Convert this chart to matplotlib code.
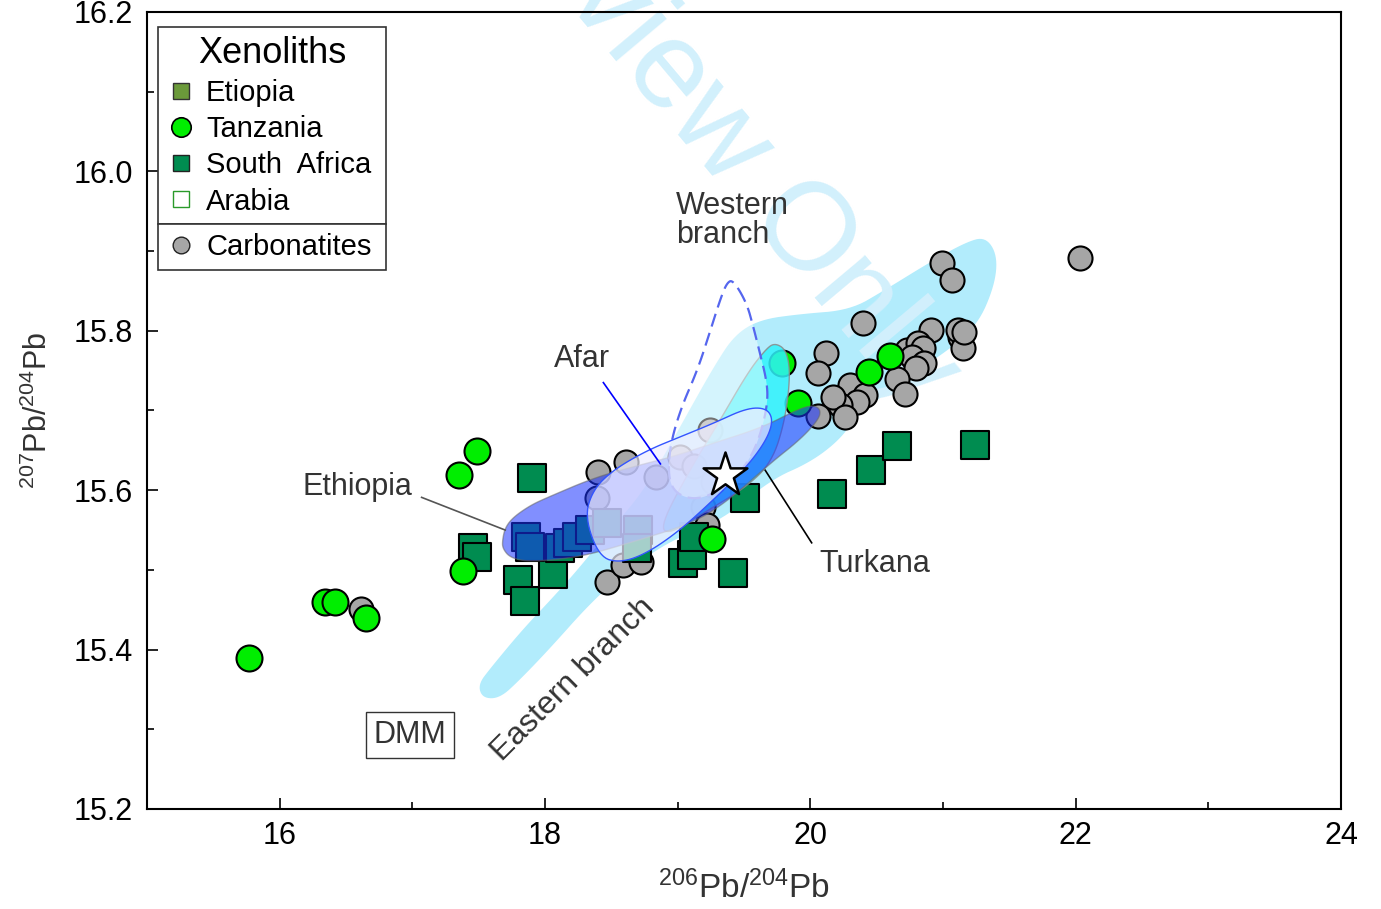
import numpy as np
import matplotlib.pyplot as plt
from matplotlib.lines import Line2D
from matplotlib.patches import Polygon
from matplotlib.ticker import MultipleLocator, FormatStrFormatter

plt.rcParams['font.family'] = ['Liberation Sans', 'DejaVu Sans']
plt.rcParams['mathtext.fontset'] = 'custom'
plt.rcParams['mathtext.rm'] = 'Liberation Sans'
plt.rcParams['mathtext.it'] = 'Liberation Sans:italic'

# ---- point data (206Pb/204Pb, 207Pb/204Pb) ----
tanz_x = [15.77, 16.34, 16.42, 16.65, 17.35, 17.49, 17.38, 19.26, 19.91, 19.79, 20.44, 20.60]
tanz_y = [15.389, 15.460, 15.460, 15.440, 15.619, 15.649, 15.499, 15.539, 15.709, 15.760, 15.748, 15.768]

safr_x = [17.90, 17.46, 17.49, 17.80, 17.85, 18.06, 19.51, 19.04, 19.11, 19.12, 19.42, 20.16, 20.46,
          20.65, 21.24, 17.86, 17.89, 18.11, 18.17, 18.24, 18.34, 18.47, 18.70, 18.69]
safr_y = [15.615, 15.527, 15.516, 15.487, 15.461, 15.495, 15.590, 15.509, 15.519, 15.541, 15.496, 15.595,
          15.625, 15.655, 15.657, 15.541, 15.529, 15.527, 15.534, 15.541, 15.550, 15.559, 15.550, 15.527]

carb_x = [22.03, 20.99, 21.07, 20.40, 20.12, 20.06, 20.91, 21.13, 21.11, 21.15, 21.16, 20.73, 20.81,
          20.85, 20.77, 20.86, 20.80, 20.65, 20.71, 20.30, 20.41, 20.35, 20.22, 20.17, 20.26, 20.06,
          18.40, 18.61, 18.39, 18.84, 19.02, 19.24, 19.27, 18.47, 18.59, 18.72, 19.19, 19.22, 16.61,
          18.15, 19.12]
carb_y = [15.891, 15.885, 15.864, 15.810, 15.772, 15.747, 15.801, 15.792, 15.801, 15.778, 15.798, 15.776,
          15.785, 15.778, 15.767, 15.760, 15.753, 15.740, 15.721, 15.732, 15.719, 15.711, 15.707, 15.717,
          15.692, 15.693, 15.623, 15.635, 15.590, 15.617, 15.642, 15.676, 15.610, 15.485, 15.506, 15.510,
          15.579, 15.556, 15.451, 15.534, 15.630]

star_x = [19.36]
star_y = [15.619]

# ---- field outlines ----
eastern = [(17.53, 15.339), (17.495, 15.356), (17.59, 15.377), (17.83, 15.425), (18.04, 15.462),
           (18.23, 15.497), (18.49, 15.550), (18.72, 15.594), (18.90, 15.644), (19.09, 15.701),
           (19.28, 15.757), (19.43, 15.795), (19.62, 15.814), (19.92, 15.821), (20.30, 15.826),
           (20.56, 15.851), (20.90, 15.886), (21.17, 15.911), (21.32, 15.918), (21.41, 15.895),
           (21.39, 15.857), (21.26, 15.807), (21.02, 15.773), (20.75, 15.745), (20.47, 15.709),
           (20.34, 15.691), (20.22, 15.663), (20.00, 15.635), (19.70, 15.613), (19.34, 15.563),
           (18.96, 15.538), (18.62, 15.500), (18.34, 15.458), (18.04, 15.402), (17.81, 15.362),
           (17.66, 15.339)]
western = [(19.417, 15.864), (19.52, 15.835), (19.57, 15.805), (19.62, 15.772), (19.67, 15.738),
           (19.68, 15.713), (19.64, 15.679), (19.57, 15.647), (19.47, 15.622), (19.32, 15.600),
           (19.15, 15.588), (19.00, 15.594), (18.93, 15.613), (18.94, 15.654), (19.02, 15.701),
           (19.15, 15.751), (19.24, 15.797), (19.32, 15.839), (19.37, 15.860)]
turkana = [(19.73, 15.785), (19.82, 15.776), (19.85, 15.745), (19.81, 15.688), (19.71, 15.635),
           (19.51, 15.603), (19.21, 15.573), (18.93, 15.544), (18.87, 15.556), (19.09, 15.625),
           (19.32, 15.688), (19.53, 15.748), (19.66, 15.776)]
ethiopia = [(17.68, 15.538), (17.70, 15.553), (17.76, 15.566), (17.89, 15.581), (18.02, 15.591),
            (18.39, 15.617), (18.77, 15.634), (18.96, 15.642), (19.27, 15.659), (19.64, 15.679),
            (19.90, 15.701), (20.02, 15.707), (20.08, 15.701), (20.06, 15.688), (19.92, 15.663),
            (19.70, 15.634), (19.39, 15.588), (19.12, 15.559), (18.64, 15.534), (18.26, 15.516),
            (17.89, 15.510), (17.74, 15.515), (17.68, 15.527)]
afar = [(18.30, 15.566), (18.41, 15.516), (18.57, 15.509), (18.77, 15.521), (19.02, 15.550),
        (19.27, 15.588), (19.52, 15.629), (19.67, 15.663), (19.72, 15.688), (19.67, 15.703),
        (19.52, 15.703), (19.27, 15.684), (19.02, 15.667), (18.77, 15.650), (18.51, 15.625),
        (18.36, 15.600)]


def smooth(pts, n=3):
    # Chaikin corner cutting for a closed outline
    p = np.asarray(pts, float)
    for _ in range(n):
        q = np.roll(p, -1, axis=0)
        new = np.empty((2 * len(p), 2))
        new[0::2] = 0.75 * p + 0.25 * q
        new[1::2] = 0.25 * p + 0.75 * q
        p = new
    return p


fig = plt.figure(figsize=(13.81, 9.09), dpi=100)
ax = fig.add_axes([147 / 1381, 1 - 809 / 909, 1194 / 1381, 797 / 909])

# watermark, kept behind the symbols and labels
ax.text(0.506, 0.878, 'Preview Only', transform=fig.transFigure, rotation=-50, fontsize=90,
        color='#d2f0fc', ha='center', va='center', rotation_mode='anchor', zorder=2, clip_on=False)

ax.add_patch(Polygon(smooth(eastern), closed=True, fc='#b2ecfc', ec='none', zorder=1))

ax.scatter(carb_x, carb_y, s=300, marker='o', c='#a6a6a6', edgecolors='black', linewidths=1.5, zorder=3)
ax.scatter(safr_x, safr_y, s=378, marker='s', c='#008c50', edgecolors='black', linewidths=1.5, zorder=3.1)
ax.scatter(tanz_x, tanz_y, s=350, marker='o', c='#00ee00', edgecolors='black', linewidths=1.5, zorder=3.2)

ax.add_patch(Polygon(smooth(turkana), closed=True, fc='#30f2fb', ec='#8a8a8a', lw=1, alpha=0.85, zorder=4))
ax.add_patch(Polygon(smooth(ethiopia), closed=True, fc='#1a33ff', ec='#666666', lw=1, alpha=0.55, zorder=4.1))
ax.add_patch(Polygon(smooth(western), closed=True, fc=(1, 1, 1, 0.45), ec='#5566ee', lw=1.6,
                     ls=(0, (6, 3)), zorder=4.2))
ax.add_patch(Polygon(smooth(afar), closed=True, fc=(0.93, 0.93, 1.0, 0.7), ec='#3355ff', lw=1,
                     zorder=4.3))

ax.scatter(star_x, star_y, s=1100, marker='*', c='white', edgecolors='black', linewidths=1.8, zorder=6)

# labels and leader lines
txt = '#333333'
ax.text(17.00, 15.604, 'Ethiopia', fontsize=22, color=txt, ha='right', va='center', zorder=7)
ax.plot([17.07, 17.70], [15.591, 15.550], color='#555555', lw=1.2, zorder=5)
ax.text(18.07, 15.765, 'Afar', fontsize=22, color=txt, ha='left', va='center', zorder=7)
ax.plot([18.44, 18.87], [15.735, 15.633], color='#0000ff', lw=1.2, zorder=5)
ax.text(20.07, 15.507, 'Turkana', fontsize=22, color=txt, ha='left', va='center', zorder=7)
ax.plot([20.01, 19.66], [15.534, 15.625], color='black', lw=1.2, zorder=5)
ax.text(18.99, 15.938, 'Western\nbranch', fontsize=22, color=txt, ha='left', va='center',
        linespacing=0.95, zorder=7)
ax.text(18.21, 15.362, 'Eastern branch', fontsize=23, color=txt, rotation=45, ha='center',
        va='center', rotation_mode='anchor', zorder=7)
ax.text(16.98, 15.293, 'DMM', fontsize=22, color=txt, ha='center', va='center', zorder=7,
        bbox=dict(boxstyle='square,pad=0.25', fc='white', ec='#333333', lw=1))

ax.set_xlim(15, 24)
ax.set_ylim(15.2, 16.2)
ax.xaxis.set_major_locator(MultipleLocator(2))
ax.xaxis.set_minor_locator(MultipleLocator(1))
ax.yaxis.set_major_locator(MultipleLocator(0.2))
ax.yaxis.set_minor_locator(MultipleLocator(0.1))
ax.xaxis.set_major_formatter(FormatStrFormatter('%d'))
ax.yaxis.set_major_formatter(FormatStrFormatter('%.1f'))
ax.tick_params(which='both', direction='in', top=False, right=False, width=1.2)
ax.tick_params(which='major', length=8, labelsize=22)
ax.tick_params(which='minor', length=5)
ax.tick_params(axis='y', pad=10)
ax.tick_params(axis='x', pad=9)
for sp in ax.spines.values():
    sp.set_linewidth(1.5)

ax.set_xlabel(r'$^{206}$Pb/$^{204}$Pb', fontsize=24, color=txt, labelpad=14)
ax.set_ylabel(r'$^{207}$Pb/$^{204}$Pb', fontsize=22, color=txt, labelpad=14)

# legends
h1 = [Line2D([], [], ls='none', marker='s', ms=12, mfc='#6b9a3a', mec='#333333', mew=1),
      Line2D([], [], ls='none', marker='o', ms=14, mfc='#00ee00', mec='black', mew=1.2),
      Line2D([], [], ls='none', marker='s', ms=12, mfc='#008c50', mec='#222222', mew=1),
      Line2D([], [], ls='none', marker='s', ms=12, mfc='white', mec='#2a9a2a', mew=1)]
leg1 = ax.legend(h1, ['Etiopia', 'Tanzania', 'South  Africa', 'Arabia'], title='Xenoliths',
                 title_fontproperties={'size': 26}, fontsize=21, loc='upper left',
                 bbox_to_anchor=(0.0092, 0.981, 0.1911, 0), mode='expand', borderaxespad=0,
                 handlelength=1.0, handletextpad=0.35, labelspacing=0.28, borderpad=0.3,
                 fancybox=False, framealpha=1, edgecolor='#333333')
leg1.get_frame().set_linewidth(1.2)
leg1.set_zorder(8)
fig.canvas.draw()
bb = leg1.get_frame().get_window_extent().transformed(ax.transAxes.inverted())

h2 = [Line2D([], [], ls='none', marker='o', ms=12, mfc='#a6a6a6', mec='#222222', mew=1)]
leg2 = ax.legend(h2, ['Carbonatites'], fontsize=21, loc='upper left',
                 bbox_to_anchor=(bb.x0, bb.y0, bb.width, 0), mode='expand', borderaxespad=0,
                 handlelength=1.0, handletextpad=0.35, borderpad=0.3,
                 fancybox=False, framealpha=1, edgecolor='#333333')
leg2.get_frame().set_linewidth(1.2)
leg2.set_zorder(8)
ax.add_artist(leg1)

fig.savefig('out.png', dpi=100)
